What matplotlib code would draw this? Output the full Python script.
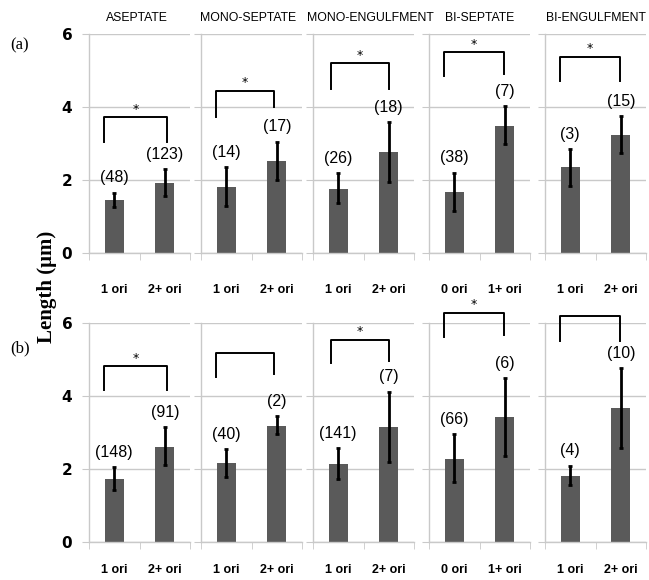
import matplotlib.pyplot as plt
import numpy as np

# panel titles and category labels
titles = ["ASEPTATE", "MONO-SEPTATE", "MONO-ENGULFMENT", "BI-SEPTATE", "BI-ENGULFMENT"]
cats = [["1 ori", "2+ ori"], ["1 ori", "2+ ori"], ["1 ori", "2+ ori"],
        ["0 ori", "1+ ori"], ["1 ori", "2+ ori"]]

# row (a)
means_a = [[1.45, 1.92], [1.80, 2.52], [1.75, 2.77], [1.67, 3.49], [2.35, 3.22]]
err_lo_a = [[1.27, 1.55], [1.30, 2.00], [1.37, 1.95], [1.15, 2.99], [1.84, 2.74]]
err_hi_a = [[1.65, 2.30], [2.35, 3.05], [2.18, 3.58], [2.20, 4.03], [2.85, 3.75]]
counts_a = [["(48)", "(123)"], ["(14)", "(17)"], ["(26)", "(18)"], ["(38)", "(7)"], ["(3)", "(15)"]]
# bracket: top, left leg end, right leg end, star shown
brk_a = [[3.72, 3.05, 3.05, True], [4.44, 3.73, 4.0, True], [5.2, 4.5, 4.5, True],
         [5.5, 4.85, 4.9, True], [5.37, 4.7, 4.7, True]]

# row (b)
means_b = [[1.71, 2.60], [2.15, 3.18], [2.12, 3.15], [2.26, 3.42], [1.80, 3.65]]
err_lo_b = [[1.42, 2.10], [1.76, 2.95], [1.72, 2.19], [1.63, 2.35], [1.55, 2.58]]
err_hi_b = [[2.04, 3.13], [2.53, 3.44], [2.56, 4.11], [2.95, 4.49], [2.08, 4.75]]
counts_b = [["(148)", "(91)"], ["(40)", "(2)"], ["(141)", "(7)"], ["(66)", "(6)"], ["(4)", "(10)"]]
brk_b = [[4.81, 4.16, 4.16, True], [5.18, 4.5, 4.6, False], [5.53, 4.9, 4.95, True],
         [6.27, 5.6, 5.66, True], [6.18, 5.5, 5.5, False]]

W, H = 649, 580
fig = plt.figure(figsize=(W / 100, H / 100), dpi=100)

lefts = [89, 201, 313, 429, 545]
pw = 101
bar_col = "#5a5a5a"
grid_col = "#c9c9c9"
leg_x = [[-0.2, 1.05], [-0.2, 0.95], [-0.15, 1.0], [-0.2, 0.98], [-0.2, 0.98]]
title_dx = [-0.03, -0.03, 0.065, 0, 0]


def draw_row(ytop, ybot, means, lo, hi, counts, brk, show_title, xpad):
    for i in range(5):
        ax = fig.add_axes([lefts[i] / W, 1 - ybot / H, pw / W, (ybot - ytop) / H])
        x = np.arange(2)
        m = np.array(means[i])
        yerr = [m - np.array(lo[i]), np.array(hi[i]) - m]
        ax.bar(x, m, width=0.38, color=bar_col, zorder=2)
        ax.errorbar(x, m, yerr=yerr, fmt="none", ecolor="black", elinewidth=2,
                    capsize=1.5, capthick=2, zorder=3)
        for j in range(2):
            ax.text(x[j], hi[i][j] + 0.2, counts[i][j], ha="center", va="bottom",
                    fontsize=11.5, family="Liberation Sans")
        top, l_end, r_end, star = brk[i]
        lx, rx = leg_x[i]
        ax.plot([lx, lx, rx, rx], [l_end, top, top, r_end], color="black", lw=1.4,
                clip_on=False, zorder=4)
        if star:
            ax.text((lx + rx) / 2, top + 0.22, "*", ha="center", va="center",
                    fontsize=9, clip_on=False)
        ax.set_xlim(-0.5, 1.5)
        ax.set_ylim(0, 6)
        ax.set_yticks([0, 2, 4, 6])
        ax.grid(axis="y", color=grid_col, lw=1, zorder=0)
        for s in ["top", "right"]:
            ax.spines[s].set_visible(False)
        for s in ["left", "bottom"]:
            ax.spines[s].set_color(grid_col)
            ax.spines[s].set_linewidth(1)
        ax.set_xticks(x)
        ax.set_xticklabels(cats[i], fontsize=9, fontweight="bold", family="Liberation Sans")
        ax.set_xticks([-0.5, 0.5, 1.5], minor=True)
        ax.tick_params(axis="x", which="major", length=0, pad=xpad)
        ax.tick_params(axis="x", which="minor", length=5, color=grid_col, direction="out")
        ax.tick_params(axis="y", length=5, color=grid_col, direction="out", pad=7,
                       labelsize=11)
        if i == 0:
            for t in ax.get_yticklabels():
                t.set_fontweight("bold")
        else:
            ax.set_yticklabels([])
        if show_title:
            ax.text(0.5 + title_dx[i], 1.075, titles[i], transform=ax.transAxes,
                    ha="center", va="center", fontsize=8.8, family="Liberation Sans")


draw_row(34, 253, means_a, err_lo_a, err_hi_a, counts_a, brk_a, True, 22)
draw_row(322.7, 541.7, means_b, err_lo_b, err_hi_b, counts_b, brk_b, False, 16)

fig.text(47 / W, 1 - 287 / H, "Length (\u03bcm)", rotation=90, ha="center", va="center",
         fontsize=15, fontweight="bold", family="Liberation Serif")
fig.text(20 / W, 1 - 45 / H, "(a)", ha="center", va="center", fontsize=12,
         family="Liberation Serif")
fig.text(20 / W, 1 - 348 / H, "(b)", ha="center", va="center", fontsize=12,
         family="Liberation Serif")

fig.savefig("out.png", dpi=100)
